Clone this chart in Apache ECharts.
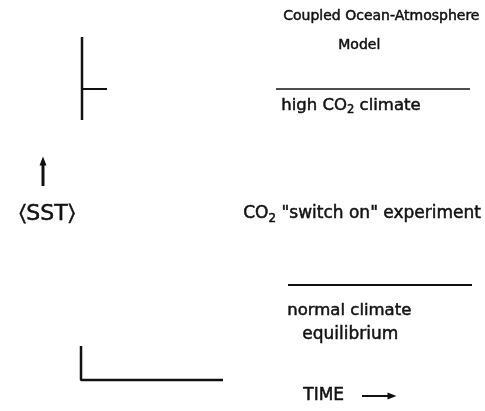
<!DOCTYPE html>
<html>
<head>
<meta charset="utf-8">
<script src="https://cdn.jsdelivr.net/npm/echarts@6/dist/echarts.min.js"></script>
<style>
  html, body { margin: 0; padding: 0; background: #fff; }
  #chart { width: 485px; height: 411px; }
</style>
</head>
<body>
<div id="chart"></div>
<script>
// schematic segments, in diagram units (x: time, y: <SST> downwards)
const upperAxis = [[82, 37], [82, 120]]
const upperTick = [[82, 89], [107, 89]]
const highLevel = [[276, 89], [470, 89]]
const normalLevel = [[288, 285], [472, 285]]
const lowerAxis = [[81, 346], [81, 380], [223, 380]]
const sstArrow = [[43, 186], [43, 161]]
const timeArrow = [[362, 396], [392, 396]]

const font = '"DejaVu Sans", sans-serif'
const ink = '#111'
const chart = echarts.init(document.getElementById('chart'))

function seg(data, width) {
  return {
    type: 'line',
    data: data,
    symbol: 'none',
    silent: true,
    animation: false,
    lineStyle: { color: ink, width: width }
  }
}
function arrow(data, width, rot) {
  const pts = data.map((p, i) => i === data.length - 1
    ? { value: p, symbol: 'triangle', symbolSize: [7, 9], symbolRotate: rot }
    : { value: p, symbol: 'none' })
  return {
    type: 'line',
    data: pts,
    silent: true,
    animation: false,
    itemStyle: { color: ink },
    lineStyle: { color: ink, width: width }
  }
}

function txt(x, y, text, size) {
  return {
    type: 'text',
    left: x, top: y,
    style: {
      text: text, fontFamily: font, fontSize: size, fill: ink,
      stroke: ink, lineWidth: 0.5
    }
  }
}
// label with a subscript "2"
function sub(x, y, before, after, size) {
  return {
    type: 'text',
    left: x, top: y,
    style: {
      text: '{a|' + before + '}{s|2}{a|' + after + '}',
      fill: ink, stroke: ink, lineWidth: 0.5,
      rich: {
        a: { fontFamily: font, fontSize: size },
        s: { fontFamily: font, fontSize: size * 0.7, padding: [size * 0.55, 0, 0, 0] }
      }
    }
  }
}

chart.setOption({
  backgroundColor: '#fff',
  grid: { left: 0, right: 0, top: 0, bottom: 0 },
  xAxis: { type: 'value', min: 0, max: 485, show: false },
  yAxis: { type: 'value', min: 0, max: 411, inverse: true, show: false },
  series: [
    seg(upperAxis, 2.5),
    seg(upperTick, 2),
    seg(highLevel, 1.5),
    seg(normalLevel, 2),
    seg(lowerAxis, 2.5),
    arrow(sstArrow, 3, 0),
    arrow(timeArrow, 2, -90)
  ],
  graphic: [
    txt(283, 9, 'Coupled Ocean-Atmosphere', 14),
    txt(338, 38, 'Model', 14),
    sub(281, 97, 'high CO', ' climate', 16.5),
    txt(19, 203, '\u2329SST\u232A', 22),
    sub(243, 205, 'CO', ' "switch on" experiment', 17),
    txt(287, 302, 'normal climate', 16.5),
    txt(302, 326, 'equilibrium', 17),
    txt(303, 387, 'TIME', 17)
  ]
})
</script>
</body>
</html>
